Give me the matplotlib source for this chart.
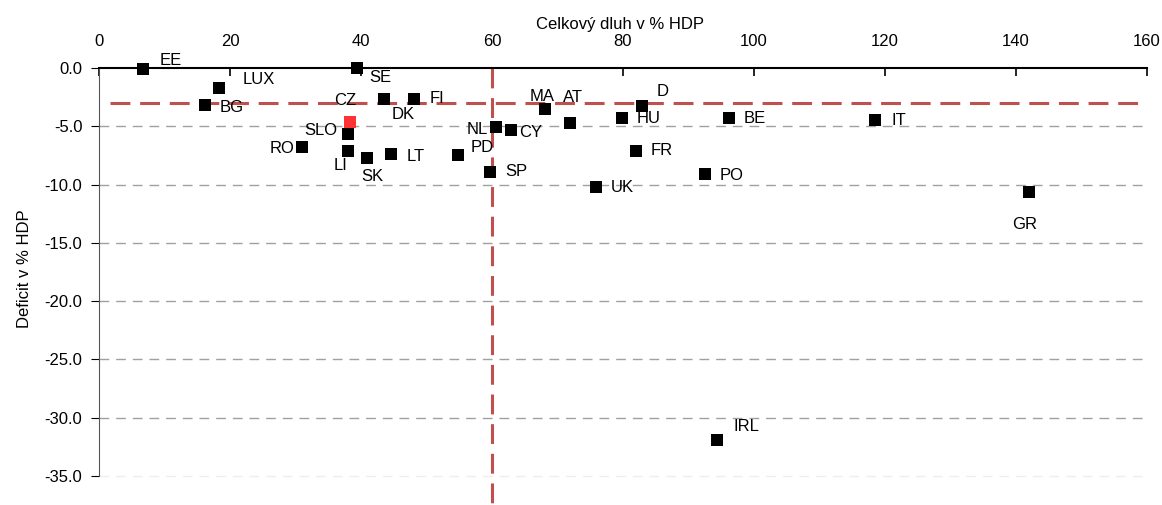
import numpy as np
import matplotlib
matplotlib.use("Agg")
from matplotlib import pyplot as plt

# dluh a deficit zemi EU (% HDP)
countries = ['EE', 'SE', 'LUX', 'BG', 'DK', 'FI', 'SLO', 'RO', 'LI', 'SK', 'LT',
             'PD', 'SP', 'NL', 'CY', 'MA', 'AT', 'D', 'HU', 'FR', 'UK', 'BE',
             'IT', 'PO', 'GR', 'IRL']
debt = [6.7, 39.4, 18.3, 16.2, 43.5, 48.1, 38.0, 31.0, 38.0, 40.9, 44.6,
        54.8, 59.7, 60.6, 62.9, 68.1, 71.9, 82.9, 79.8, 82.0, 75.9, 96.2,
        118.5, 92.5, 142.0, 94.4]
deficit = [-0.1, 0.0, -1.7, -3.2, -2.7, -2.7, -5.7, -6.8, -7.1, -7.7, -7.4,
           -7.5, -8.9, -5.1, -5.3, -3.5, -4.7, -3.3, -4.3, -7.1, -10.2, -4.3,
           -4.5, -9.1, -10.6, -31.9]

# Ceska republika zvlast (cervene)
cz_debt = 38.3
cz_deficit = -4.6

# limity Maastrichtu
debt_limit = 60
deficit_limit = -3

# posun popisku v pixelech a zarovnani
label_offsets = {
    'EE': (17, 9, 'left'), 'SE': (12, -9, 'left'), 'LUX': (24, 8, 'left'),
    'BG': (15, -2, 'left'), 'DK': (8, -15, 'left'), 'FI': (16, 1, 'left'),
    'SLO': (-10, 4, 'right'), 'RO': (-8, -1, 'right'), 'LI': (-14, -15, 'left'),
    'SK': (-6, -19, 'left'), 'LT': (15, -2, 'left'), 'PD': (13, 8, 'left'),
    'SP': (15, 0, 'left'), 'NL': (-8, -2, 'right'), 'CY': (8, -3, 'left'),
    'MA': (-15, 12, 'left'), 'AT': (-7, 25, 'left'), 'D': (15, 15, 'left'),
    'HU': (15, 0, 'left'), 'FR': (15, 0, 'left'), 'UK': (15, -1, 'left'),
    'BE': (15, 0, 'left'), 'IT': (16, 0, 'left'), 'PO': (15, -1, 'left'),
    'GR': (-17, -33, 'left'), 'IRL': (16, 13, 'left'),
}

plt.rcParams['font.family'] = ['Liberation Sans', 'DejaVu Sans']
plt.rcParams['axes.unicode_minus'] = False
fs = 12

fig = plt.figure(figsize=(11.62, 5.05), dpi=100)
ax = fig.add_axes([99 / 1162, 0.0, 1048 / 1162, 437 / 505])
ax.set_axisbelow(True)

ax.set_xlim(0, 160)
ax.set_ylim(-37.5, 0)

# mrizka
for y in np.arange(-5, -31, -5):
    ax.plot([0, 160], [y, y], color='#a0a0a0', lw=1, ls=(0, (7, 5)), zorder=1)
ax.plot([0, 160], [-35, -35], color='#eeeeee', lw=1, ls=(0, (7, 5)), zorder=1)

# limity
red = '#C0504D'
ax.plot([1.7, 160], [deficit_limit, deficit_limit], color=red, lw=2.2,
        ls=(0, (6.5, 3.2)), zorder=2)
ax.plot([debt_limit, debt_limit], [0, -37.5], color=red, lw=2.2,
        ls=(0, (6.5, 3.2)), zorder=2)

ax.scatter(debt, deficit, marker='s', s=85, color='black', lw=0, zorder=3, clip_on=False)
ax.scatter([cz_debt], [cz_deficit], marker='s', s=85, color='#FF3333', lw=0, zorder=3)

for name, x, y in zip(countries, debt, deficit):
    dx, dy, ha = label_offsets[name]
    ax.annotate(name, (x, y), xytext=(dx, dy), textcoords='offset pixels',
                ha=ha, va='center', fontsize=fs)
ax.annotate('CZ', (cz_debt, cz_deficit), xytext=(-5, 21), textcoords='offset pixels',
            ha='center', va='center', fontsize=fs)

# osy
ax.spines['right'].set_visible(False)
ax.spines['bottom'].set_visible(False)
ax.spines['left'].set_bounds(-35, 0)
ax.spines['left'].set_color('#555555')
ax.spines['top'].set_linewidth(1.5)

ax.xaxis.tick_top()
ax.xaxis.set_label_position('top')
ax.set_xticks(np.arange(0, 161, 20))
ax.tick_params(axis='x', direction='in', length=6, width=1.2, labelsize=fs, pad=14)
ax.set_yticks(np.arange(0, -36, -5))
ax.set_yticklabels(['%.1f' % v for v in np.arange(0, -36, -5)])
ax.tick_params(axis='y', direction='out', length=6, labelsize=fs, pad=6)

ax.set_xlabel('Celkový dluh v % HDP', fontsize=fs)
ax.xaxis.set_label_coords(0.497, 1.09)
ax.set_ylabel('Deficit v % HDP', fontsize=fs)
ax.yaxis.set_label_coords(-0.064, 0.54)

fig.savefig('out.png', dpi=100)
